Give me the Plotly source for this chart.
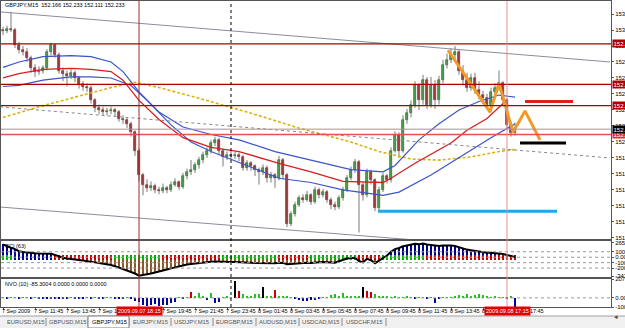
import plotly.graph_objects as go

W, H = 625, 328

# ---------------- data ----------------
symbol_title = "GBPJPY,M15  152.166 152.233 152.111 152.233"
opens = [153.10,153.09,153.11,153.10,152.96,152.91,152.89,152.84,152.74,152.71,
 152.72,152.74,152.89,152.96,152.87,152.72,152.69,152.67,152.70,152.65,
 152.59,152.57,152.56,152.44,152.37,152.35,152.33,152.34,152.35,152.33,
 152.27,152.26,152.22,152.14,151.97,151.74,151.65,151.62,151.64,151.60,
 151.59,151.62,151.60,151.65,151.67,151.63,151.73,151.77,151.79,151.83,
 151.88,151.93,151.97,152.04,152.07,151.97,151.91,151.93,151.92,151.93,
 151.91,151.81,151.85,151.82,151.79,151.77,151.81,151.71,151.74,151.71,
 151.88,151.74,151.28,151.37,151.46,151.52,151.51,151.55,151.49,151.60,
 151.55,151.58,151.51,151.46,151.44,151.52,151.60,151.71,151.79,151.86,
 151.65,151.55,151.77,151.69,151.43,151.60,151.73,151.69,151.97,152.12,
 151.97,152.26,152.32,152.40,152.58,152.44,152.63,152.40,152.58,152.44,
 152.63,152.77,152.82,152.87,152.89,152.72,152.63,152.56,152.65,152.54,
 152.49,152.46,152.40,152.52,152.56,152.60,152.44,152.21,152.13]
closes = [153.09,153.11,153.10,152.96,152.91,152.89,152.84,152.74,152.71,152.72,
 152.74,152.89,152.96,152.87,152.72,152.69,152.67,152.70,152.65,152.59,
 152.57,152.56,152.44,152.37,152.35,152.33,152.34,152.35,152.33,152.27,
 152.26,152.22,152.14,151.97,151.74,151.65,151.62,151.64,151.60,151.59,
 151.62,151.60,151.65,151.67,151.63,151.73,151.77,151.79,151.83,151.88,
 151.93,151.97,152.04,152.07,151.97,151.91,151.93,151.92,151.93,151.91,
 151.81,151.85,151.82,151.79,151.77,151.81,151.71,151.74,151.71,151.88,
 151.74,151.28,151.37,151.46,151.52,151.51,151.55,151.49,151.60,151.55,
 151.58,151.51,151.46,151.44,151.52,151.60,151.71,151.79,151.86,151.65,
 151.55,151.77,151.69,151.43,151.60,151.73,151.69,151.97,152.12,151.97,
 152.26,152.32,152.40,152.58,152.44,152.63,152.40,152.58,152.44,152.63,
 152.77,152.82,152.87,152.89,152.72,152.63,152.56,152.65,152.54,152.49,
 152.46,152.40,152.52,152.56,152.60,152.44,152.21,152.13,152.17]
highs = [153.13,153.14,153.27,153.12,152.99,152.95,152.93,152.86,152.78,152.76,
 152.77,152.92,152.98,152.97,152.89,152.75,152.72,152.73,152.72,152.67,
 152.62,152.60,152.58,152.46,152.40,152.38,152.37,152.38,152.37,152.35,
 152.30,152.28,152.24,152.16,151.99,151.76,151.70,151.68,151.66,151.63,
 151.66,151.64,151.68,151.71,151.69,151.76,151.80,151.88,151.86,151.91,
 151.96,152.00,152.07,152.10,152.09,151.99,151.96,151.97,151.96,151.95,
 151.93,151.88,151.87,151.84,151.81,151.84,151.83,151.77,151.76,151.92,
 151.90,151.76,151.40,151.49,151.55,151.56,151.59,151.57,151.63,151.62,
 151.61,151.60,151.53,151.49,151.55,151.63,151.74,151.82,151.89,151.88,
 151.67,151.80,151.79,151.71,151.63,151.76,151.75,152.00,152.15,152.14,
 152.30,152.36,152.44,152.62,152.60,152.68,152.66,152.66,152.63,152.67,
 152.82,152.88,152.93,152.95,152.92,152.77,152.70,152.69,152.70,152.62,
 152.53,152.50,152.56,152.60,152.72,152.62,152.46,152.24,152.23]
lows = [153.05,153.07,153.08,152.93,152.88,152.86,152.80,152.70,152.66,152.68,
 152.69,152.72,152.86,152.84,152.69,152.62,152.57,152.64,152.61,152.55,
 152.53,152.52,152.41,152.33,152.31,152.30,152.30,152.31,152.29,152.24,
 152.22,152.18,152.10,151.92,151.68,151.55,151.58,151.59,151.57,151.56,
 151.57,151.57,151.58,151.63,151.60,151.61,151.70,151.74,151.76,151.80,
 151.85,151.90,151.94,152.01,151.93,151.82,151.88,151.89,151.89,151.87,
 151.78,151.78,151.78,151.73,151.65,151.74,151.67,151.67,151.62,151.69,
 151.70,151.25,151.26,151.35,151.44,151.48,151.49,151.46,151.47,151.52,
 151.53,151.48,151.42,151.41,151.42,151.50,151.58,151.69,151.76,151.20,
 151.50,151.53,151.65,151.40,151.41,151.58,151.66,151.67,151.95,151.90,
 151.95,152.22,152.28,152.37,152.35,152.40,152.36,152.37,152.36,152.40,
 152.60,152.74,152.79,152.82,152.68,152.58,152.52,152.53,152.50,152.45,
 152.41,152.37,152.38,152.48,152.53,152.40,152.18,152.10,152.11]
idx = list(range(len(closes)))

# moving-average envelope (bar index, price)
ma_up_x = [0,4,10,17,22,27,30,34,39,45,52,59,68,77,87,95,98,104,109,114,119,124,128]
ma_up_y = [152.75,152.80,152.85,152.86,152.85,152.80,152.71,152.52,152.33,152.19,152.12,152.07,
           151.96,151.88,151.79,151.77,151.83,152.07,152.22,152.35,152.43,152.49,152.47]
ma_mid_x = [0,4,10,17,22,27,30,34,39,45,52,59,69,77,85,95,97,103,112,116,121,125]
ma_mid_y = [152.65,152.69,152.73,152.74,152.73,152.71,152.63,152.44,152.26,152.09,152.00,151.96,
            151.85,151.77,151.68,151.67,151.71,151.85,152.04,152.16,152.27,152.41]
ma_lo_x = [0,4,10,17,22,27,32,36,42,47,52,59,69,77,85,95,99,107,116,122,128]
ma_lo_y = [152.57,152.58,152.63,152.66,152.66,152.65,152.58,152.44,152.21,152.05,151.96,151.86,
           151.71,151.67,151.60,151.55,151.58,151.74,151.95,152.09,152.22]
ma_slow_x = [0,9,19,27,33,39,49,62,74,87,94,102,109,117,124,128]
ma_slow_y = [152.28,152.38,152.48,152.56,152.61,152.56,152.46,152.32,152.18,152.05,151.96,151.89,
             151.88,151.91,151.96,151.98]

# drawn objects
trend_up = ([-0.75, 151.75], [153.27, 152.80])
trend_lo = ([-0.75, 110.0], [151.44, 151.11])
trend_dot = ([-0.75, 151.75], [152.38, 151.90])
h_levels = [152.97, 152.59, 152.39]
h_level_light = 152.12
zig_x = [111.25, 121.75, 124.0, 127.5, 130.5, 134.25]
zig_y = [152.91, 152.33, 152.60, 152.14, 152.34, 152.07]
seg_red = ([130.5, 142.5], 152.43)
seg_black = ([129.25, 140.75], 152.04)
seg_cyan = ([93.75, 138.5], 151.40)
vline_red1 = 34
vline_red2 = 126
vline_day = 57

price_ticks = [153.25,153.10,152.95,152.80,152.65,152.50,152.35,152.20,152.05,
               151.90,151.75,151.60,151.45,151.30,151.15]

cci = [235,200,175,150,110,95,85,77,75,70,
 65,70,65,40,10,-10,-25,-30,-40,-50,
 -60,-75,-85,-95,-105,-115,-130,-145,-165,-190,
 -220,-250,-275,-300,-340,-330,-315,-300,-280,-265,
 -245,-225,-205,-185,-165,-150,-135,-125,-115,-108,
 -100,-95,-85,-80,-85,-88,-88,-90,-88,-88,
 -95,-95,-100,-105,-107,-105,-110,-108,-110,-100,
 -105,-130,-125,-115,-105,-100,-100,-105,-95,-95,
 -90,-95,-100,-100,-75,-45,-25,-15,-10,-70,
 -95,-30,-55,-110,-60,-15,30,100,150,170,
 200,215,230,245,240,250,235,225,210,205,
 215,220,215,205,180,160,140,130,115,100,
 90,80,80,75,75,60,40,20,5]
cci_band = ("GGG" + "B"*10 + "R"*15 + "G"*12 + "R"*15 + "G"*14 + "R"*8 +
            "G"*12 + "R"*6 + "G"*11 + "R"*23)

nvo = [6,-5,4,5,-4,6,5,-6,4,-8,
 -10,-15,-12,-8,-14,-12,-10,6,-8,-12,
 -10,5,-12,6,-8,-10,5,6,-8,-5,
 -6,5,-8,-35,-45,-75,-85,-80,-70,-85,
 -75,-80,-60,-45,5,-8,6,70,15,50,
 10,-25,50,-60,-40,8,10,6,190,75,
 40,12,10,45,45,120,20,18,85,25,
 10,15,8,-10,-25,-35,-30,-20,-25,-8,
 6,8,30,45,25,50,15,12,18,10,
 120,80,70,40,15,10,12,8,10,6,
 8,10,6,-10,8,6,-8,5,-55,-10,
 6,8,5,20,30,25,40,20,35,45,
 30,20,8,10,6,5,-8,10,-100]
nvo_code = ("GBGGBGGBGB" "BBBBBBBGBB" "BGBGBBGGBB" "BGBBBBBBBB" "BBBBGBGRGG"
            "GBGBBGGGKR" "GGGGGKGGRG" "GGGBBBBBBB" "GGGGGGGGGG" "KRRGGGGGGG"
            "GGGBGGBGBB" "GGGGGGGGGG" "GGGGGGBGB")

time_label_idx = [0,8,16,24,32,40,48,56,64,72,80,88,96,104,112,120,128]
time_labels = ["7 Sep 2009","7 Sep 11:45","7 Sep 13:45","7 Sep 15:45","7 Sep 17:45",
               "7 Sep 19:45","7 Sep 21:45","7 Sep 23:45","8 Sep 01:45","8 Sep 03:45",
               "8 Sep 05:45","8 Sep 07:45","8 Sep 09:45","8 Sep 11:45","8 Sep 13:45",
               "8 Sep 15:45","8 Sep 17:45"]
vline_labels = {34: "2009.09.07 18:15", 126: "2009.09.08 17:15"}
tabs = ["EURUSD,M15","GBPUSD,M15","GBPJPY,M15","EURJPY,M15","USDJPY,M15",
        "EURGBP,M15","AUDUSD,M15","USDCAD,M15","USDCHF,M15"]
active_tab = "GBPJPY,M15"

# ---------------- layout helpers ----------------
FONT = "Liberation Sans, Arial"
FS = 5.5
def px_x(px): return px / W
def px_y(py): return 1 - py / H

X0, X1 = px_x(1), px_x(611)
XR = [-0.5, 152]
main_dom = [px_y(239), px_y(1)]
cci_dom = [px_y(277), px_y(241)]
nvo_dom = [px_y(307), px_y(279)]

def bar_paper(i):
    return X0 + (i - XR[0]) / (XR[1] - XR[0]) * (X1 - X0)

fig = go.Figure()

wx, wy = [], []
for i in idx:
    wx += [i, i, None]
    wy += [lows[i], highs[i], None]
fig.add_trace(go.Scatter(x=wx, y=wy, mode="lines", line=dict(color="#7a7a7a", width=1),
                         hoverinfo="skip", xaxis="x", yaxis="y"))
base = [min(o, c) for o, c in zip(opens, closes)]
hgt = [max(abs(c - o), 0.004) for o, c in zip(opens, closes)]
bcol = ["#22cc22" if c >= o else "#c00000" for o, c in zip(opens, closes)]
lcol = ["#0a3a0a" if c >= o else "#5a0000" for o, c in zip(opens, closes)]
fig.add_trace(go.Bar(x=idx, y=hgt, base=base, width=0.72,
                     marker=dict(color=bcol, line=dict(color=lcol, width=0.6)),
                     xaxis="x", yaxis="y"))

def line(x, y, color, width, dash=None, ax="y"):
    fig.add_trace(go.Scatter(x=x, y=y, mode="lines",
                             line=dict(color=color, width=width, dash=dash),
                             hoverinfo="skip", xaxis="x", yaxis=ax))

line(ma_slow_x, ma_slow_y, "#d9b310", 1.6, "3px,2px")
line(ma_up_x, ma_up_y, "#3a55c8", 1.2)
line(ma_lo_x, ma_lo_y, "#3a55c8", 1.2)
line(ma_mid_x, ma_mid_y, "#d42020", 1.3)
line(*trend_up, "#8c8c9c", 1)
line(*trend_lo, "#8c8c9c", 1)
line(*trend_dot, "#888888", 1, "dot")
line(zig_x, zig_y, "#f39a25", 3)
line(seg_red[0], [seg_red[1]] * 2, "#dd2020", 3)
line(seg_black[0], [seg_black[1]] * 2, "#000000", 3)
line(seg_cyan[0], [seg_cyan[1]] * 2, "#1fa9e1", 3)

hcol = ["#000090" if v >= 0 else "#8b5a2b" for v in cci]
fig.add_trace(go.Bar(x=idx, y=cci, width=0.5, marker=dict(color=hcol, line=dict(width=0)),
                     xaxis="x2", yaxis="y2"))
band_colors = {"G": "#00b400", "R": "#d00000", "B": "#000090"}
fig.add_trace(go.Bar(x=idx, y=[90] * len(idx), base=-45, width=0.5,
                     marker=dict(color=[band_colors[c] for c in cci_band], line=dict(width=0)),
                     xaxis="x2", yaxis="y2"))
fig.add_trace(go.Scatter(x=idx, y=cci, mode="lines", line=dict(color="#000", width=2),
                         xaxis="x2", yaxis="y2"))

nvo_colors = {"G": "#22c022", "R": "#d00000", "K": "#000000", "B": "#0000a8"}
fig.add_trace(go.Bar(x=idx, y=nvo, width=0.45,
                     marker=dict(color=[nvo_colors[c] for c in nvo_code], line=dict(width=0)),
                     xaxis="x3", yaxis="y3"))

shapes = []
for v in h_levels:
    shapes.append(dict(type="line", xref="paper", yref="y", x0=X0, x1=X1, y0=v, y1=v,
                       line=dict(color="#a80000", width=1.3)))
shapes.append(dict(type="line", xref="paper", yref="y", x0=X0, x1=X1, y0=h_level_light,
                   y1=h_level_light, line=dict(color="#e85050", width=1.3)))
shapes.append(dict(type="line", xref="paper", yref="y", x0=X0, x1=X1, y0=closes[-1],
                   y1=closes[-1], line=dict(color="#9a9a9a", width=1)))
for v in [100, 0, -100, -200]:
    shapes.append(dict(type="line", xref="paper", yref="y2", x0=X0, x1=X1, y0=v, y1=v,
                       line=dict(color="#9a9a9a", width=1, dash="dot")))
shapes.append(dict(type="line", xref="paper", yref="y3", x0=X0, x1=X1, y0=0, y1=0,
                   line=dict(color="#9a9a9a", width=1, dash="dot")))
for xv, col, dash in [(vline_red1, "#9a2a2a", None), (vline_red2, "#e89090", None),
                      (vline_day, "#000000", "dot")]:
    shapes.append(dict(type="line", xref="x", yref="paper", x0=xv, x1=xv,
                       y0=nvo_dom[0], y1=main_dom[1], line=dict(color=col, width=1, dash=dash)))
shapes.append(dict(type="rect", xref="paper", yref="paper", x0=0, x1=1, y0=0, y1=px_y(316),
                   fillcolor="#f0f0f0", line=dict(width=0), layer="below"))
shapes.append(dict(type="line", xref="paper", yref="paper", x0=0, x1=1, y0=px_y(316),
                   y1=px_y(316), line=dict(color="#a0a0a0", width=1)))
tab_centers = [25, 67, 109, 150, 192, 234, 277, 321, 364]
tab_seps = [46, 88, 129, 171, 213, 256, 299, 342, 386]
for s in tab_seps:
    shapes.append(dict(type="line", xref="paper", yref="paper", x0=px_x(s), x1=px_x(s),
                       y0=px_y(326), y1=px_y(318), line=dict(color="#8a8a8a", width=1)))
shapes.append(dict(type="rect", xref="paper", yref="paper", x0=px_x(88), x1=px_x(129),
                   y0=px_y(328), y1=px_y(316), fillcolor="#ffffff",
                   line=dict(color="#808080", width=1)))

ann = []
small = dict(family=FONT, size=FS, color="#000")
ann.append(dict(x=px_x(3), y=px_y(5), xref="paper", yref="paper", text=symbol_title,
                showarrow=False, xanchor="left", yanchor="middle", font=small))
ann.append(dict(x=px_x(3), y=px_y(246), xref="paper", yref="paper", text="CCI (63)",
                showarrow=False, xanchor="left", yanchor="middle", font=small))
ann.append(dict(x=px_x(3), y=px_y(284), xref="paper", yref="paper",
                text="NVO (10) -85.3004 0.0000 0.0000 0.0000",
                showarrow=False, xanchor="left", yanchor="middle", font=small))
for i, t in zip(time_label_idx, time_labels):
    ann.append(dict(x=max(bar_paper(i - 0.75), 0.0), y=px_y(311), xref="paper", yref="paper",
                    text=t, showarrow=False, xanchor="left", yanchor="middle", font=small))
for i, t in vline_labels.items():
    ann.append(dict(x=bar_paper(i), y=px_y(311), xref="paper", yref="paper", text=t,
                    showarrow=False, xanchor="center", yanchor="middle", bgcolor="#e00000",
                    borderpad=1, font=dict(family=FONT, size=FS, color="#fff")))
for v, bg in [(h_levels[0], "#b00000"), (h_levels[1], "#b00000"), (h_levels[2], "#b00000"),
              (h_level_light, "#e03030"), (closes[-1], "#000000")]:
    ann.append(dict(x=px_x(612), y=v, xref="paper", yref="y", text=f"{v:.3f}",
                    showarrow=False, xanchor="left", yanchor="middle", bgcolor=bg,
                    borderpad=0.5, font=dict(family=FONT, size=FS + 0.5, color="#fff")))
for c, t in zip(tab_centers, tabs):
    ann.append(dict(x=px_x(c), y=px_y(322), xref="paper", yref="paper", text=t,
                    showarrow=False, xanchor="center", yanchor="middle",
                    font=dict(family=FONT, size=FS + 0.3,
                              color="#000" if t == active_tab else "#555")))
ann.append(dict(x=px_x(620), y=px_y(322), xref="paper", yref="paper", text="◂",
                showarrow=False, font=dict(family=FONT, size=7, color="#444")))

axis_common = dict(domain=[X0, X1], range=XR, showgrid=False, zeroline=False,
                   showline=True, mirror=True, linecolor="#555", linewidth=1,
                   showticklabels=False, ticks="", automargin=False)
tickfont = dict(family=FONT, size=FS + 0.5, color="#000")
ycommon = dict(side="right", tickfont=tickfont, ticks="outside", ticklen=2, tickcolor="#555",
               showgrid=False, zeroline=False, showline=True, mirror=True,
               linecolor="#555", automargin=False)
fig.update_layout(
    width=W, height=H, margin=dict(l=0, r=0, t=0, b=0),
    template="none", paper_bgcolor="#fff", plot_bgcolor="#fff",
    showlegend=False, barmode="overlay", bargap=0,
    xaxis=dict(anchor="y", **axis_common),
    xaxis2=dict(anchor="y2", matches="x", **axis_common),
    xaxis3=dict(anchor="y3", matches="x", **{**axis_common, "ticks": "outside",
                "ticklen": 2, "tickcolor": "#555",
                "tickvals": time_label_idx}),
    yaxis=dict(domain=main_dom, range=[151.140, 153.372], anchor="x",
               tickvals=price_ticks, ticktext=[f"{v:.3f}" for v in price_ticks], **ycommon),
    yaxis2=dict(domain=cci_dom, range=[-364, 298], anchor="x2",
                tickvals=[265.4, 100, 0, -100, -200, -347.1],
                ticktext=["265.4", "100", "0.00", "-100", "-200", "-347.1"], **ycommon),
    yaxis3=dict(domain=nvo_dom, range=[-100.3, 207.6], anchor="x3",
                tickvals=[207.6, 0, -100.3], ticktext=["207.6", "0.00", "-100.3"], **ycommon),
    shapes=shapes, annotations=ann,
)
fig.write_html("out.html")
